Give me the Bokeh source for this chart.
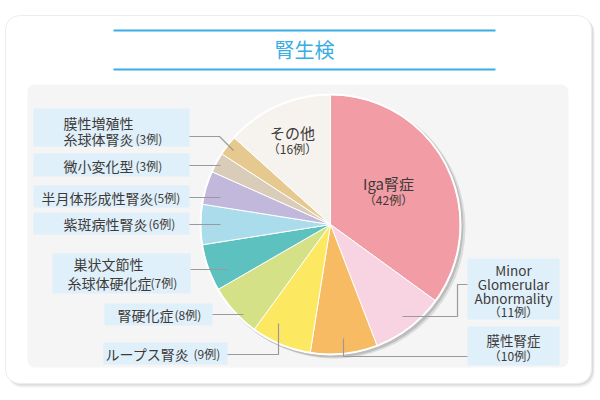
import math
from bokeh.plotting import figure
from bokeh.models import Range1d, ColumnDataSource
from bokeh.core.properties import value
from bokeh.embed import file_html
from bokeh.resources import INLINE

# ---------------- data ----------------
names = ["Iga腎症", "Minor Glomerular Abnormality", "膜性腎症", "ループス腎炎", "腎硬化症",
         "巣状文節性糸球体硬化症", "紫斑病性腎炎", "半月体形成性腎炎", "微小変化型",
         "膜性増殖性糸球体腎炎", "その他"]
counts = [42, 11, 10, 9, 8, 7, 6, 5, 3, 3, 16]
colors = ["#f29ca5", "#f8d3e2", "#f7bc63", "#fde862", "#d5e187", "#5dc1bf",
          "#abdcec", "#c1b8dc", "#d9cdb9", "#e6c98e", "#f6f3ee"]
title = "腎生検"

# ---------------- layout ----------------
W, H = 600, 400
def Y(py):
    return H - py

CX, CY, R = 330, 224, 130
FONT = value("Noto Sans CJK JP")
TXT = "#3e3a39"
BLUE = "#3aaee2"
BOX = "#dff0fa"
LEAD = "#9a9a9a"

p = figure(width=W, height=H, x_range=Range1d(0, W), y_range=Range1d(0, H),
           x_axis_type=None, y_axis_type=None, toolbar_location=None,
           output_backend="svg", min_border=0, outline_line_color=None,
           background_fill_color="white", border_fill_color="white")

# card shadow + card
p.quad(left=[7], right=[594], top=[Y(17)], bottom=[Y(387)], fill_color="#000000",
       fill_alpha=0.06, line_color=None, border_radius=15)
p.quad(left=[6], right=[593], top=[Y(16)], bottom=[Y(385)], fill_color="#000000",
       fill_alpha=0.08, line_color=None, border_radius=15)
p.quad(left=[5], right=[591], top=[Y(15)], bottom=[Y(383)], fill_color="white",
       line_color="#ececec", line_width=1, border_radius=14)

# title + rules
p.segment(x0=[113, 113], y0=[Y(30), Y(69)], x1=[495, 495], y1=[Y(30), Y(69)],
          line_color=BLUE, line_width=2.2)
p.text(x=[304], y=[Y(49)], text=[title], text_font=FONT, text_font_size="20px",
       text_color=BLUE, text_align="center", text_baseline="middle")

# gray panel
p.quad(left=[27], right=[568], top=[Y(84)], bottom=[Y(367)], fill_color="#f5f5f5",
       line_color=None, border_radius=7)

# pie shadow
p.circle(x=[CX + 4], y=[Y(CY + 3)], radius=R + 1, fill_color="#000000",
         fill_alpha=0.10, line_color=None)
p.circle(x=[CX + 2], y=[Y(CY + 2)], radius=R + 1, fill_color="#000000",
         fill_alpha=0.14, line_color=None)

# wedges
total = sum(counts)
starts, ends = [], []
cum = 0
for c in counts:
    starts.append(math.pi / 2 - 2 * math.pi * cum / total)
    cum += c
    ends.append(math.pi / 2 - 2 * math.pi * cum / total)
src = ColumnDataSource(dict(start=starts, end=ends, color=colors, name=names, count=counts))
p.wedge(x=CX, y=Y(CY), radius=R, start_angle="start", end_angle="end",
        direction="clock", fill_color="color", line_color="white", line_width=1,
        source=src)
p.circle(x=[CX], y=[Y(CY)], radius=R, fill_color=None, line_color="white", line_width=2)

# label boxes (left, top, right, bottom in pixels)
boxes = [(33, 108, 189, 146), (33, 153, 189, 176), (33, 185, 189, 207),
         (33, 212, 189, 234), (52, 253, 190, 293), (104, 303, 212, 325),
         (103, 342, 227, 364), (467, 258, 559, 319), (467, 326, 559, 365)]
p.quad(left=[b[0] for b in boxes], right=[b[2] for b in boxes],
       top=[Y(b[1]) for b in boxes], bottom=[Y(b[3]) for b in boxes],
       fill_color=BOX, line_color=None)

# leader lines
leaders = [
    [(189, 136), (219, 136), (233, 150)],
    [(189, 165), (220, 165)],
    [(189, 197), (220, 197)],
    [(189, 224), (220, 224)],
    [(190, 269), (227, 269)],
    [(212, 314), (243, 314)],
    [(227, 354), (278, 354), (278, 323)],
    [(402, 316), (457, 316), (457, 284), (467, 284)],
    [(343, 338), (343, 356), (467, 356)],
]
p.multi_line(xs=[[pt[0] for pt in l] for l in leaders],
             ys=[[Y(pt[1]) for pt in l] for l in leaders],
             line_color=LEAD, line_width=1.2)

def n_of(label):
    return counts[names.index(label)]

# left labels: (lines with positions, suffix position)
left_labels = [
    ("膜性増殖性糸球体腎炎", [("膜性増殖性", 63, 122), ("糸球体腎炎", 63, 138)], (135, 138)),
    ("微小変化型", [("微小変化型", 63, 165)], (135, 165)),
    ("半月体形成性腎炎", [("半月体形成性腎炎", 41, 197)], (153, 197)),
    ("紫斑病性腎炎", [("紫斑病性腎炎", 63, 223)], (148, 223)),
    ("巣状文節性糸球体硬化症", [("巣状文節性", 73, 263), ("糸球体硬化症", 67, 282)], (150, 282)),
    ("腎硬化症", [("腎硬化症", 117, 314)], (174, 314)),
    ("ループス腎炎", [("ループス腎炎", 105, 353)], (193, 353)),
]
mx, my, mt, sx, sy, st = [], [], [], [], [], []
for label, lines, suf in left_labels:
    for t, x, y in lines:
        mx.append(x); my.append(Y(y)); mt.append(t)
    sx.append(suf[0]); sy.append(Y(suf[1])); st.append(f"({n_of(label)}例)")
p.text(x=mx, y=my, text=mt, text_font=FONT, text_font_size="14px", text_color=TXT,
       text_align="left", text_baseline="middle")
p.text(x=sx, y=sy, text=st, text_font=FONT, text_font_size="12px", text_color=TXT,
       text_align="left", text_baseline="middle")

# right labels (centered)
p.text(x=[513, 513, 513, 513], y=[Y(269), Y(283), Y(297), Y(339)],
       text=["Minor", "Glomerular", "Abnormality", "膜性腎症"], text_font=FONT,
       text_font_size="13.5px", text_color=TXT, text_align="center", text_baseline="middle",
       text_line_height=1.0)
p.text(x=[513, 513], y=[Y(311), Y(355)],
       text=[f"（{n_of('Minor Glomerular Abnormality')}例）", f"（{n_of('膜性腎症')}例）"],
       text_font=FONT, text_font_size="12px", text_color=TXT, text_align="center",
       text_baseline="middle")

# labels inside the pie
p.text(x=[388, 292], y=[Y(183), Y(132)], text=["Iga腎症", "その他"], text_font=FONT,
       text_font_size="15px", text_color=TXT, text_align="center", text_baseline="middle")
p.text(x=[388, 292], y=[Y(199), Y(148)],
       text=[f"（{n_of('Iga腎症')}例）", f"（{n_of('その他')}例）"], text_font=FONT,
       text_font_size="12px", text_color=TXT, text_align="center", text_baseline="middle")

open("out.html", "w").write(file_html(p, INLINE))
